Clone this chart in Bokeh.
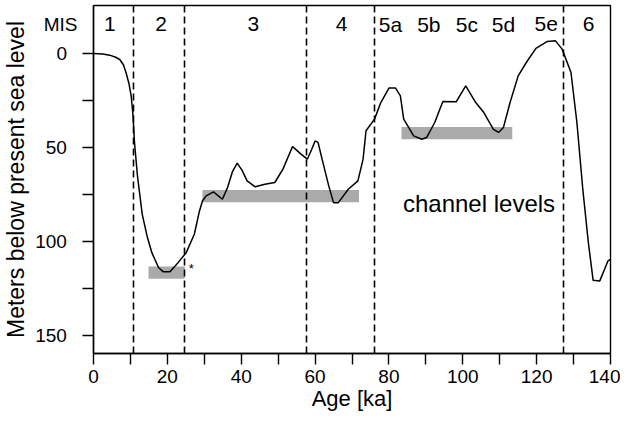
import numpy as np
from bokeh.plotting import figure
from bokeh.models import Range1d, FixedTicker, LabelSet, Label, ColumnDataSource
from bokeh.embed import file_html
from bokeh.resources import INLINE
from bokeh.core.properties import value

# ---- data -------------------------------------------------------------
age_ka = [0, 2.5, 4.4, 6.0, 7.1, 8.1, 8.8, 9.6, 10.2, 10.7, 11.1, 11.9, 13.2, 14.5,
          15.8, 17.6, 18.9, 20.7, 22.9, 25.1, 27.3, 28.7, 29.5, 30.5, 32.5, 34.9,
          36.3, 37.6, 38.9, 40.2, 41.6, 43.8, 46.4, 49.1, 51.3, 53.9, 56.2, 57.9,
          59.1, 60.0, 60.8, 61.9, 63.7, 65.0, 66.3, 69.0, 71.6, 73.0, 73.8, 76.1,
          77.8, 80.0, 81.8, 83.1, 84.0, 86.7, 88.9, 90.2, 92.4, 94.6, 98.2, 100.8,
          103.5, 105.7, 108.3, 109.7, 111.0, 112.8, 115.0, 117.2, 119.8, 122.9,
          125.1, 126.9, 129.3, 130.9, 132.5, 134.0, 135.3, 137.1, 139.3, 140.0]
depth_m = [0, 0.3, 0.9, 2.0, 3.2, 6.0, 10.1, 16.0, 22.5, 33.0, 47.3, 65.0, 85.5, 97.0,
           105.9, 113.8, 116.1, 116.1, 111.2, 105.9, 96.1, 83.7, 78.4, 75.7, 73.6, 77.5,
           71.3, 63.0, 58.3, 62.0, 67.7, 70.9, 69.5, 68.6, 61.5, 49.5, 53.5, 56.2,
           50.9, 46.5, 47.3, 56.2, 70.4, 79.3, 79.3, 72.2, 67.7, 56.2, 41.1, 34.9,
           26.1, 18.4, 18.4, 22.5, 34.9, 43.8, 45.6, 44.7, 36.7, 25.5, 25.7, 17.2,
           26.1, 31.4, 40.3, 42.0, 39.4, 26.1, 11.9, 4.8, -2.7, -6.4,
           -6.7, -2.3, 10.1, 36.7, 72.2, 100.5, 120.6, 120.9, 110.3, 109.5]

mis_bounds = [10.8, 24.7, 57.8, 76.0, 127.4]
mis_names = ["1", "2", "3", "4", "5a", "5b", "5c", "5d", "5e", "6"]
mis_centers = [4.4, 18.3, 43.3, 67.2, 80.4, 90.8, 101.1, 111.0, 122.6, 134.1]
mis_row = -15.5   # depth of the MIS label row

level_left = [14.9, 29.5, 83.4]
level_right = [24.7, 71.9, 113.4]
level_depth = [116.5, 75.8, 42.4]

x_ticks = [0, 20, 40, 60, 80, 100, 120, 140]
x_minor = [10, 30, 50, 70, 90, 110, 130]
y_labels = [0, 50, 100, 150]
y_tick_marks = [0, 25, 50, 75, 100, 125, 150]

FONT = "Liberation Sans"
PAD = "\u00a0\u00a0"

# ---- figure -----------------------------------------------------------
p = figure(width=620, height=415, output_backend="svg", toolbar_location=None,
           x_range=Range1d(0, 140), y_range=Range1d(159.5, -25.5),
           min_border_left=82, min_border_right=10, min_border_top=5,
           min_border_bottom=62)
p.background_fill_color = "white"
p.border_fill_color = "white"
p.xgrid.visible = False
p.ygrid.visible = False
p.outline_line_color = "black"
p.outline_line_width = 1.4
p.outline_line_alpha = 1.0

for ax in (p.xaxis[0], p.yaxis[0]):
    ax.axis_line_color = "black"
    ax.axis_line_width = 1.4
    ax.major_tick_line_color = "black"
    ax.major_tick_line_width = 1.4
    ax.minor_tick_line_color = "black"
    ax.minor_tick_line_width = 1.4
    ax.major_tick_in = 0
    ax.minor_tick_in = 0
    ax.minor_tick_out = 11
    ax.major_label_text_font = FONT
    ax.major_label_text_font_size = "19px"
    ax.major_label_text_color = "black"
    ax.axis_label_text_font = FONT
    ax.axis_label_text_font_style = "normal"
    ax.axis_label_text_color = "black"

# x axis
xa = p.xaxis[0]
xa.ticker = FixedTicker(ticks=x_ticks, minor_ticks=x_minor)
xa.major_tick_out = 11
xa.major_label_standoff = 5
xa.axis_label = "Age [ka]"
xa.axis_label_text_font_size = "22px"
xa.axis_label_standoff = 0

# y axis: tick marks drawn as minor ticks, labels (incl. "MIS") as majors
ya = p.yaxis[0]
ya.ticker = FixedTicker(ticks=[mis_row] + y_labels, minor_ticks=y_tick_marks)
ya.major_tick_out = 0
ya.major_tick_line_color = None
ya.major_label_standoff = 5
overrides = {mis_row: "MIS"}
for v in y_labels:
    overrides[v] = str(v) + PAD
ya.major_label_overrides = overrides
ya.axis_label = "Meters below present sea level"
ya.axis_label_text_font_size = "23px"
ya.axis_label_standoff = 3

# channel level bars
p.hbar(y=level_depth, left=level_left, right=level_right, height=6.5,
       fill_color="#aaaaaa", line_color=None)

# MIS boundaries
p.vspan(x=mis_bounds, line_color="black", line_width=1.6, line_dash="7 4")

# sea level curve
p.line(age_ka, depth_m, line_color="black", line_width=1.5)

# MIS labels
src = ColumnDataSource(dict(x=mis_centers, y=[mis_row] * len(mis_centers), text=mis_names))
p.add_layout(LabelSet(x="x", y="y", text="text", source=src, text_align="center",
                      text_baseline="middle", text_font=value(FONT),
                      text_font_size="21px", text_color="black"))

# annotations
p.add_layout(Label(x=26.5, y=114.2, text="*", text_align="center",
                   text_baseline="middle", text_font=FONT,
                   text_font_size="13px", text_color="black"))
p.add_layout(Label(x=83.8, y=79.5, text="channel levels", text_align="left",
                   text_baseline="alphabetic", text_font=FONT,
                   text_font_size="24px", text_color="black"))

open("out.html", "w").write(file_html(p, INLINE))
